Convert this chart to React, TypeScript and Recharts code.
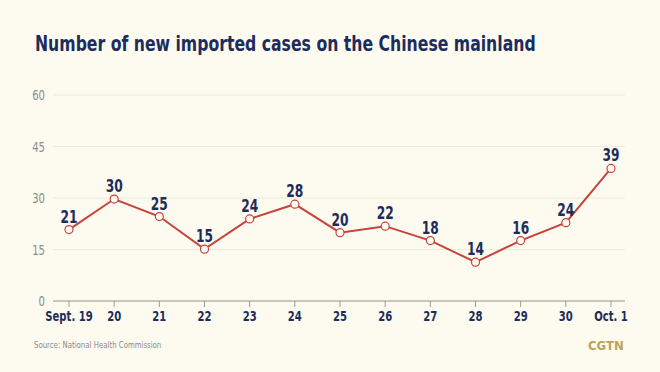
import { LineChart, Line, XAxis, YAxis, CartesianGrid, LabelList } from "recharts"

const days = ["Sept. 19", "20", "21", "22", "23", "24", "25", "26", "27", "28", "29", "30", "Oct. 1"]
// where each point sits on the chart
const plotted = [20.8, 29.7, 24.6, 15.1, 23.9, 28.2, 19.9, 21.8, 17.6, 11.3, 17.6, 22.8, 38.6]
// number printed above each point
const printed = [21, 30, 25, 15, 24, 28, 20, 22, 18, 14, 16, 24, 39]
const yTicks = [0, 15, 30, 45, 60]

const data = days.map((d, i) => ({ day: d, value: plotted[i], label: printed[i] }))

const FONT = "'DejaVu Sans Condensed', 'Liberation Sans Narrow', 'Roboto', sans-serif"
const NAVY = "#1c2c5b"
const SQUEEZE = 0.8

const PointLabel = (props: any) => {
  const { x, y, index } = props
  return (
    <text transform={`translate(${x},${y - 7}) scale(${SQUEEZE},1)`} textAnchor="middle" fill={NAVY}
      fontSize={17} fontWeight="bold" fontFamily={FONT}>
      {printed[index]}
    </text>
  )
}

const DayTick = ({ x, y, payload }: any) => (
  <text transform={`translate(${x},${y + 12}) scale(${SQUEEZE},1)`} textAnchor="middle" fill={NAVY}
    fontSize={14} fontWeight="bold" fontFamily={FONT}>
    {payload.value}
  </text>
)

const ValueTick = ({ x, y, payload }: any) => (
  <text transform={`translate(${x},${y + 5}) scale(${SQUEEZE},1)`} textAnchor="end" fill="#8c8c8c"
    fontSize={14} fontFamily={FONT}>
    {payload.value}
  </text>
)

export default function App() {
  return (
    <div style={{ position: "absolute", left: 0, top: 0, width: 660, height: 372, background: "#fdfbef", fontFamily: FONT, overflow: "hidden" }}>
      <div style={{ position: "absolute", left: 35, top: 32, fontSize: 21, fontWeight: "bold", color: NAVY, whiteSpace: "nowrap", transform: "scaleX(0.83)", transformOrigin: "left top" }}>
        Number of new imported cases on the Chinese mainland
      </div>
      <div style={{ position: "absolute", left: 0, top: 0 }}>
        <LineChart width={660} height={340} data={data} margin={{ top: 95, right: 35, left: 5, bottom: 9 }}>
          <CartesianGrid vertical={false} stroke="#eeead9" />
          <XAxis dataKey="day" padding={{ left: 16, right: 14 }} height={30} stroke="#9a9a9a" tickSize={6}
            tick={<DayTick />} interval={0} />
          <YAxis domain={[0, 60]} ticks={yTicks} width={48} axisLine={false} tickLine={false} tickMargin={2}
            tick={<ValueTick />} />
          <Line dataKey="value" stroke="#c8413a" strokeWidth={2} isAnimationActive={false}
            dot={{ r: 4, fill: "#fffdf5", stroke: "#c8413a", strokeWidth: 1.2 }}>
            <LabelList dataKey="label" content={<PointLabel />} />
          </Line>
        </LineChart>
      </div>
      <div style={{ position: "absolute", left: 34, top: 340, fontSize: 9, color: "#8a8a8a", transform: "scaleX(0.86)", transformOrigin: "left top" }}>Source: National Health Commission</div>
      <div style={{ position: "absolute", left: 588, top: 338, fontSize: 13, fontWeight: "bold", color: "#bba35c" }}>CGTN</div>
    </div>
  )
}
